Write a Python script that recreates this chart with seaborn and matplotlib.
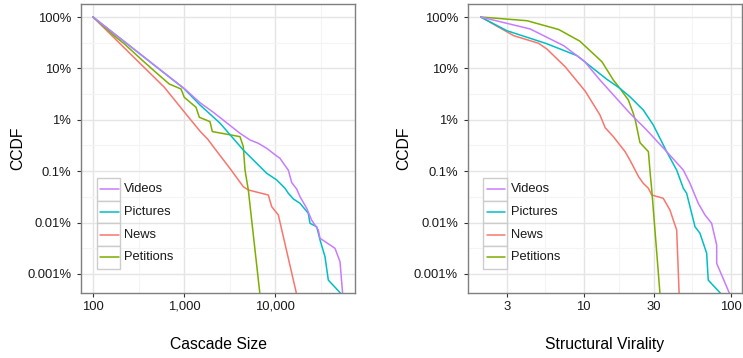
import numpy as np
import pandas as pd
import matplotlib
matplotlib.use("Agg")
import matplotlib.pyplot as plt
import seaborn as sns
from matplotlib.ticker import FixedLocator, FixedFormatter, NullFormatter
from matplotlib.patches import Rectangle
from matplotlib.lines import Line2D

# ---------------- data ----------------
legend_order = ["Videos", "Pictures", "News", "Petitions"]
draw_order = ["News", "Petitions", "Pictures", "Videos"]
palette = {"News": "#F8766D", "Petitions": "#7CAE00",
           "Pictures": "#00BFC4", "Videos": "#C77CFF"}

# Panel 1: Cascade Size (CCDF as fraction)
size_videos_x = [100, 1007, 1500, 2100, 4124, 5312, 6550, 8108, 10070, 11350, 12340,
                 14000, 15270, 17300, 18830, 22290, 25240, 29870, 31250, 45630, 51780, 55450]
size_videos_y = [1, 0.0405, 0.0215, 0.0140, 0.00546, 0.00405, 0.00349, 0.00279, 0.00207,
                 0.00178, 0.00143, 0.00105, 0.00060, 0.00045, 0.000319, 0.00019, 0.000112,
                 0.0000718, 0.0000495, 0.0000316, 0.0000174, 0.000004]

size_pictures_x = [100, 1007, 1500, 2488, 4483, 8108, 10440, 12880, 14000, 15900, 18830,
                   23200, 24240, 28700, 31250, 35420, 38530, 54060]
size_pictures_y = [1, 0.0400, 0.0194, 0.0086, 0.00258, 0.00091, 0.000675, 0.000465, 0.000372,
                   0.000288, 0.000237, 0.000152, 0.0000969, 0.0000832, 0.0000458, 0.0000217,
                   0.0000076, 0.000004]

size_news_x = [100, 262, 608, 1007, 1500, 1821, 2100, 3300, 4483, 5090, 8440, 9200, 10870, 17300]
size_news_y = [1, 0.186, 0.0429, 0.0142, 0.0060, 0.0042, 0.0030, 0.00105, 0.000499, 0.000431,
               0.000344, 0.000204, 0.000141, 0.000004]

size_petitions_x = [100, 171, 221, 352, 514, 689, 927, 1007, 1355, 1473, 1931, 2047, 4124,
                    4483, 4681, 5090, 6833]
size_petitions_y = [1, 0.43, 0.30, 0.141, 0.0778, 0.0497, 0.0397, 0.0274, 0.0175, 0.0112,
                    0.0092, 0.0059, 0.0047, 0.0030, 0.00105, 0.00043, 0.000004]

# Panel 2: Structural Virality
vir_videos_x = [2, 4.34, 7.31, 10.1, 12.9, 20.6, 26.8, 36.6, 47.5, 52.7, 60.0, 66.6, 73.9,
                80.0, 80.0, 98.4]
vir_videos_y = [1, 0.584, 0.277, 0.138, 0.0594, 0.0134, 0.0063, 0.0024, 0.00105, 0.00058,
                0.000237, 0.000141, 0.0000969, 0.0000366, 0.0000161, 0.000004]

vir_pictures_x = [2, 3.01, 5.6, 9.01, 14.3, 17.6, 20.6, 25.4, 29.7, 36.6, 42.8, 47.5, 50.0,
                  57.0, 61.6, 68.4, 70.1, 86.4]
vir_pictures_y = [1, 0.541, 0.303, 0.177, 0.062, 0.041, 0.0281, 0.0155, 0.0079, 0.0024,
                  0.00105, 0.000465, 0.000372, 0.0000832, 0.0000619, 0.0000253, 0.0000076,
                  0.000004]

vir_news_x = [2, 3.35, 4.94, 5.63, 7.5, 10.25, 12.9, 14.0, 15.9, 19.1, 20.6, 23.6, 25.4,
              27.5, 29.0, 34.7, 38.5, 42.8, 44.5]
vir_news_y = [1, 0.433, 0.308, 0.238, 0.107, 0.036, 0.0124, 0.0070, 0.0047, 0.0024, 0.00165,
              0.00078, 0.00058, 0.000465, 0.000344, 0.000297, 0.000176, 0.0000718, 0.000004]

vir_petitions_x = [2, 4.12, 6.77, 9.4, 13.3, 15.9, 17.6, 20.1, 21.7, 22.4, 24.1, 27.5, 28.3,
                   29.0, 33.0]
vir_petitions_y = [1, 0.847, 0.571, 0.34, 0.135, 0.0594, 0.041, 0.0243, 0.0134, 0.0099,
                   0.0036, 0.0024, 0.0009, 0.00043, 0.000004]

y_ticks = [1, 0.1, 0.01, 0.001, 0.0001, 0.00001]
y_tick_labels = ["100%", "10%", "1%", "0.1%", "0.01%", "0.001%"]
size_ticks = [100, 1000, 10000]
size_tick_labels = ["100", "1,000", "10,000"]
vir_ticks = [3, 10, 30, 100]
vir_tick_labels = ["3", "10", "30", "100"]


def long_frame(series):
    parts = []
    for name, xs, ys in series:
        parts.append(pd.DataFrame({"x": xs, "ccdf": ys, "type": name}))
    return pd.concat(parts, ignore_index=True)


size_df = long_frame([("Videos", size_videos_x, size_videos_y),
                      ("Pictures", size_pictures_x, size_pictures_y),
                      ("News", size_news_x, size_news_y),
                      ("Petitions", size_petitions_x, size_petitions_y)])
vir_df = long_frame([("Videos", vir_videos_x, vir_videos_y),
                     ("Pictures", vir_pictures_x, vir_pictures_y),
                     ("News", vir_news_x, vir_news_y),
                     ("Petitions", vir_petitions_x, vir_petitions_y)])

# ---------------- style ----------------
sns.set_theme(style="white")
plt.rcParams["font.family"] = ["Liberation Sans", "DejaVu Sans"]

W, H = 743, 358
fig = plt.figure(figsize=(W / 100, H / 100), dpi=100)
ax1 = fig.add_axes([81 / W, (H - 293) / H, 274 / W, 289 / H])
ax2 = fig.add_axes([467.7 / W, (H - 293) / H, 274.3 / W, 289 / H])


def minor_between(major):
    lm = np.log10(major)
    return list(10 ** ((lm[:-1] + lm[1:]) / 2))


def style_axis(ax, df, xticks, xlabels, xlim, xlabel):
    sns.lineplot(data=df, x="x", y="ccdf", hue="type", hue_order=draw_order,
                 palette=palette, estimator=None, sort=False, linewidth=1.1,
                 legend=False, ax=ax)
    ax.set_xscale("log")
    ax.set_yscale("log")
    ax.set_xlim(*xlim)
    ax.set_ylim(10 ** -5.37, 10 ** 0.253)
    ax.xaxis.set_major_locator(FixedLocator(xticks))
    ax.xaxis.set_major_formatter(FixedFormatter(xlabels))
    ax.yaxis.set_major_locator(FixedLocator(y_ticks))
    ax.yaxis.set_major_formatter(FixedFormatter(y_tick_labels))
    xt = list(xticks)
    step = np.log10(xt[1]) - np.log10(xt[0])
    ext = [10 ** (np.log10(xt[0]) - step)] + xt + [10 ** (np.log10(xt[-1]) + step)]
    ax.xaxis.set_minor_locator(FixedLocator(minor_between(ext)))
    ax.yaxis.set_minor_locator(FixedLocator(minor_between([10.0, 1] + y_ticks + [1e-6])))
    ax.xaxis.set_minor_formatter(NullFormatter())
    ax.yaxis.set_minor_formatter(NullFormatter())
    ax.grid(which="major", color="#E5E5E5", linewidth=1.0)
    ax.grid(which="minor", color="#F4F4F4", linewidth=0.8)
    ax.set_axisbelow(True)
    for sp in ax.spines.values():
        sp.set_color("#7F7F7F")
        sp.set_linewidth(1.0)
    ax.tick_params(which="major", direction="out", length=3, width=0.8,
                   color="#333333", labelsize=9.4, labelcolor="#1a1a1a",
                   bottom=True, left=True)
    ax.tick_params(axis="x", which="major", pad=2.5)
    ax.tick_params(axis="y", which="major", pad=4)
    ax.tick_params(which="minor", length=0)
    ax.set_xlabel(xlabel, fontsize=11.3, color="black")
    ax.set_ylabel("CCDF", fontsize=11.3, color="black")
    ax.xaxis.label.set_va("center")
    ax.yaxis.label.set_va("center")
    ax.xaxis.set_label_coords(0.5, -0.1765)
    ax.yaxis.set_label_coords(-0.232, 0.5)

    # legend (ggplot-style keys with borders)
    top = (293 - 178) / 289
    row = 22.7 / 289
    for i, name in enumerate(legend_order):
        y0 = top - (i + 1) * row
        ax.add_patch(Rectangle((0.057, y0), 0.086, row, transform=ax.transAxes,
                               facecolor="white", edgecolor="#CCCCCC", linewidth=1.0,
                               zorder=5))
        ax.add_line(Line2D([0.069, 0.137], [y0 + row / 2] * 2, transform=ax.transAxes,
                           color=palette[name], linewidth=1.1, zorder=6))
        ax.text(0.157, y0 + row / 2, name, transform=ax.transAxes, fontsize=9.3,
                va="center", ha="left", color="#1a1a1a", zorder=6)


style_axis(ax1, size_df, size_ticks, size_tick_labels,
           (10 ** 1.868, 10 ** 4.879), "Cascade Size")
style_axis(ax2, vir_df, vir_ticks, vir_tick_labels,
           (10 ** 0.2125, 10 ** 2.075), "Structural Virality")

fig.savefig("out.png", dpi=100)
